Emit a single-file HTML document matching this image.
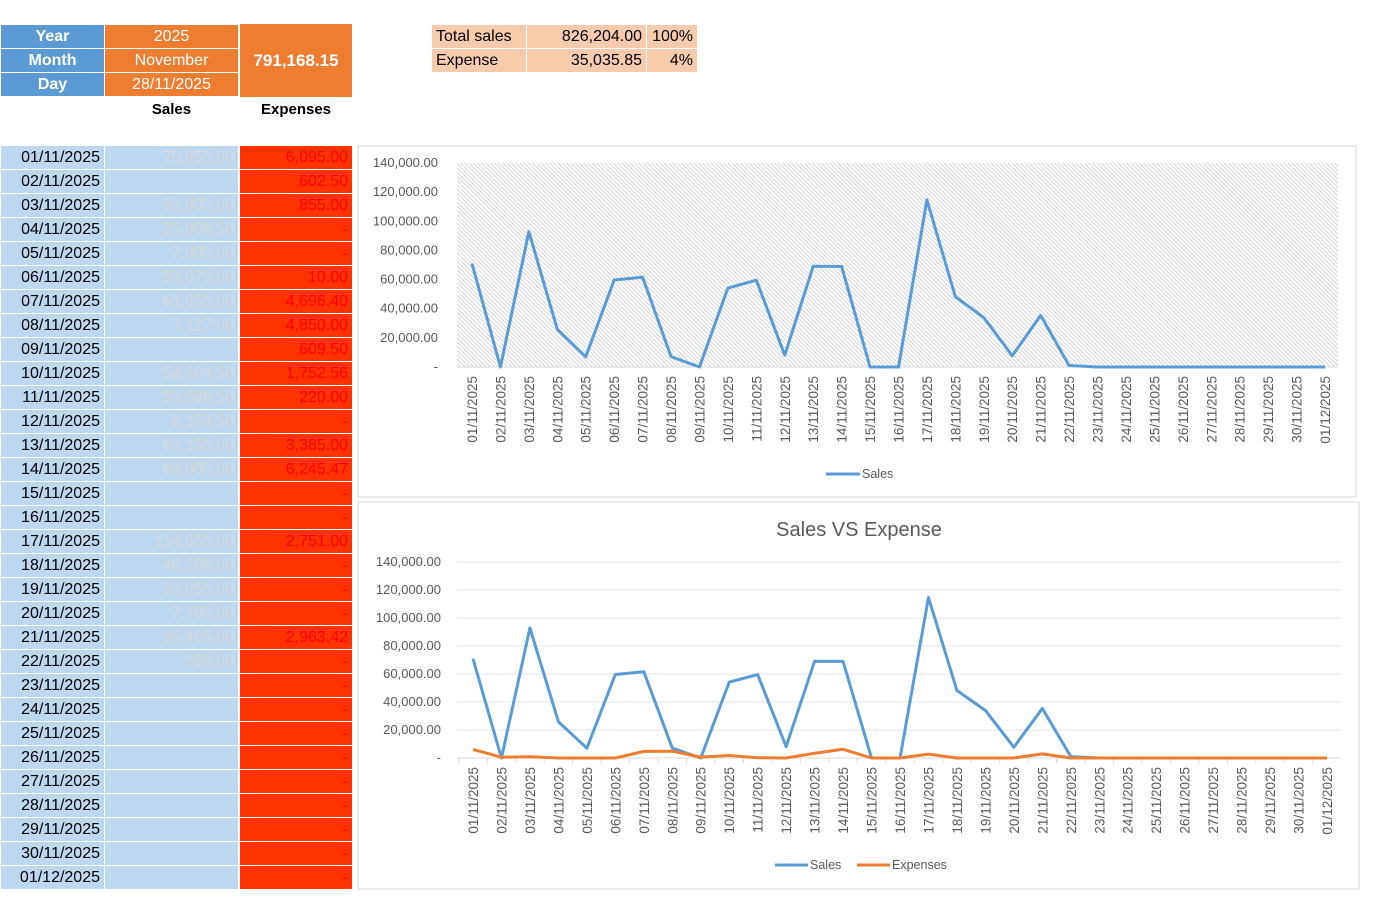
<!DOCTYPE html>
<html><head><meta charset="utf-8">
<style>
body{margin:0;width:1398px;height:913px;background:#fff;font-family:"Liberation Sans",sans-serif;position:relative;overflow:hidden}
.c{position:absolute;box-sizing:border-box;font-size:15px;line-height:23px;white-space:nowrap}
</style></head><body>
<div id="root"></div>
<svg id="ch1" style="position:absolute;left:0;top:0" width="1398" height="913"></svg>
<script>
const dates=[];
for(let d=1;d<=30;d++)dates.push(String(d).padStart(2,'0')+'/11/2025');
dates.push('01/12/2025');
const salesVals=[70950,0,92900,25908.5,7000,59679,61650,7117,0,54204.5,59588.5,8154.5,69150,69000,0,0,114650,48208,33950,7700,35405,989,0,0,0,0,0,0,0,0,0];
const expenseVals=[6095,602.5,855,0,0,10,4696.4,4850,609.5,1752.56,220,0,3385,6245.47,0,0,2751,0,0,0,2963.42,0,0,0,0,0,0,0,0,0,0];
const yTicks=[0,20000,40000,60000,80000,100000,120000,140000];

const root=document.getElementById('root');
function fmt(v){return v===0?'-':v.toLocaleString('en-US',{minimumFractionDigits:2,maximumFractionDigits:2});}
function cell(x,y,w,h,txt,bg,color,align,bold,name,size){
  const e=document.createElement('div');e.className='c';
  e.style.cssText=`left:${x}px;top:${y}px;width:${w}px;height:${h}px;background:${bg};color:${color};text-align:${align};font-weight:${bold?'bold':'normal'};line-height:${h}px;padding:0 4px;font-size:${size||16}px`;
  e.textContent=txt;
  
  
  root.appendChild(e);return e;
}
cell(1,25,103,23,'Year','#5b9bd5','#fff','center',true,'year-label');
cell(1,49,103,23,'Month','#5b9bd5','#fff','center',true,'month-label');
cell(1,73,103,23,'Day','#5b9bd5','#fff','center',true,'day-label');
cell(105,25,133,23,'2025','#ed7d31','#fff','center',false,'year-value');
cell(105,49,133,23,'November','#ed7d31','#fff','center',false,'month-value');
cell(105,73,133,23,'28/11/2025','#ed7d31','#fff','center',false,'day-value');
cell(240,24,112,73,'791,168.15','#ed7d31','#fff','center',true,'net-profit',17);
cell(105,98,133,24,'Sales','transparent','#000','center',true,'sales-header',15);
cell(240,98,112,24,'Expenses','transparent','#000','center',true,'expenses-header',15);
cell(432,25,94,23,'Total sales','#f8cbad','#000','left',false,'total-sales-label');
cell(527,25,119,23,'826,204.00','#f8cbad','#000','right',false,'total-sales-value');
cell(647,25,50,23,'100%','#f8cbad','#000','right',false,'total-sales-pct');
cell(432,49,94,23,'Expense','#f8cbad','#000','left',false,'expense-label');
cell(527,49,119,23,'35,035.85','#f8cbad','#000','right',false,'expense-value');
cell(647,49,50,23,'4%','#f8cbad','#000','right',false,'expense-pct');
for(let i=0;i<dates.length;i++){
  const y=146+i*24;
  cell(1,y,103,23,dates[i],'#bdd7ee','#000','right',false,'date-cell');
  cell(105,y,133,23,fmt(salesVals[i]),'#bdd7ee','#d9d9d9','right',false,'sales-cell');
  cell(240,y,112,23,fmt(expenseVals[i]),'#ff3300','#ff0000','right',false,'expense-cell');
}

const svg=document.getElementById('ch1');
const NS='http://www.w3.org/2000/svg';
function el(tag,attrs,parent,name){const e=document.createElementNS(NS,tag);for(const k in attrs)e.setAttribute(k,attrs[k]);(parent||svg).appendChild(e);
  
  
  return e;}
const defs=el('defs',{},svg,'defs');
const pat=el('pattern',{id:'hatch',width:3,height:3,patternUnits:'userSpaceOnUse',patternTransform:'rotate(-45)'},defs,'hatch-pattern');
el('rect',{x:0,y:0,width:3,height:3,fill:'#fff'},pat,'hatch-bg');
el('line',{x1:0,y1:0,x2:0,y2:3,stroke:'#c4c4c4','stroke-width':1.4},pat,'hatch-line');

function chart(o){
  el('rect',{x:o.bx,y:o.by,width:o.bw,height:o.bh,fill:'#fff',stroke:'#d9d9d9'},svg,o.name+'-frame');
  const xs=i=>o.x0+(o.x1-o.x0)*i/(dates.length-1);
  const ys=v=>o.yb-(o.yb-o.yt)*v/140000;
  const step=(o.x1-o.x0)/(dates.length-1);
  if(o.hatch) el('rect',{x:o.px0,y:o.yt,width:o.px1-o.px0,height:o.yb-o.yt,fill:'url(#hatch)'},svg,o.name+'-plot-area');
  yTicks.forEach(t=>{
    if(o.grid&&t>0) el('line',{x1:o.px0,x2:o.px1,y1:ys(t),y2:ys(t),stroke:'#e4e4e4'},svg,'gridline');
    const tx=el('text',{x:o.lx,y:ys(t)+4,'text-anchor':'end','font-size':13,fill:'#595959'},svg,'y-tick-label');
    tx.textContent=t===0?'-':t.toLocaleString('en-US',{minimumFractionDigits:2});
  });
  el('line',{x1:o.px0,x2:o.px1,y1:o.yb,y2:o.yb,stroke:'#d9d9d9'},svg,'x-axis');
  dates.forEach((d,i)=>{
    if(o.grid) el('line',{x1:xs(i)-step/2,x2:xs(i)-step/2,y1:o.yb,y2:o.yb+5,stroke:'#d9d9d9'},svg,'x-tick');
    const t=el('text',{transform:`translate(${xs(i)+5},${o.yb+9}) rotate(-90)`,'text-anchor':'end','font-size':13.5,fill:'#595959'},svg,'x-tick-label');
    t.textContent=d;
  });
  o.series.forEach(s=>{
    el('polyline',{points:s.vals.map((v,i)=>xs(i)+','+ys(v)).join(' '),fill:'none',stroke:s.color,'stroke-width':3,'stroke-linejoin':'round'},svg,s.name+'-line');
  });
}
chart({name:'sales-chart',bx:358,by:146,bw:998,bh:351,x0:472,x1:1325,px0:457,px1:1338,yt:163,yb:367,lx:438,hatch:true,grid:false,
  series:[{name:'sales',vals:salesVals,color:'#5b9bd5'}]});
el('line',{x1:826,x2:860,y1:474,y2:474,stroke:'#5b9bd5','stroke-width':3},svg,'legend-sales-swatch');
let t=el('text',{x:862,y:478,'font-size':12.5,fill:'#595959'},svg,'legend-sales');t.textContent='Sales';

chart({name:'sales-vs-expense-chart',bx:358,by:502,bw:1001,bh:387,x0:473,x1:1327,px0:457,px1:1340,yt:562,yb:758,lx:441,hatch:false,grid:true,
  series:[{name:'sales',vals:salesVals,color:'#5b9bd5'},{name:'expenses',vals:expenseVals,color:'#ed7d31'}]});
t=el('text',{x:859,y:536,'text-anchor':'middle','font-size':20,fill:'#595959'},svg,'chart-title');t.textContent='Sales VS Expense';
el('line',{x1:775,x2:808,y1:865,y2:865,stroke:'#5b9bd5','stroke-width':3},svg,'legend-sales-swatch');
t=el('text',{x:810,y:869,'font-size':12.5,fill:'#595959'},svg,'legend-sales');t.textContent='Sales';
el('line',{x1:857,x2:890,y1:865,y2:865,stroke:'#ed7d31','stroke-width':3},svg,'legend-expenses-swatch');
t=el('text',{x:892,y:869,'font-size':12.5,fill:'#595959'},svg,'legend-expenses');t.textContent='Expenses';
</script>
</body></html>
